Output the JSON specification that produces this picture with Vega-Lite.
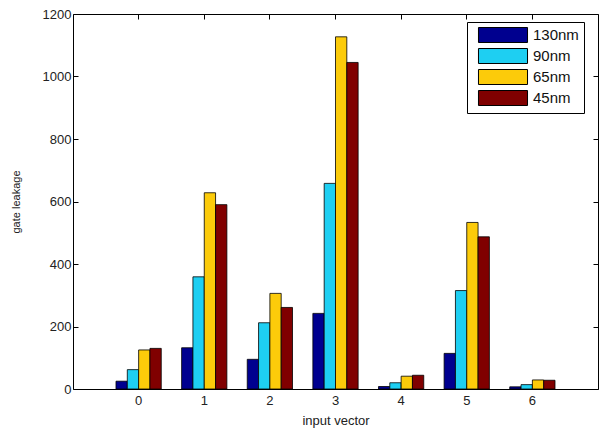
{
  "$schema": "https://vega.github.io/schema/vega-lite/v6.json",
  "width": 525,
  "height": 375,
  "autosize": {"type": "none"},
  "padding": {"left": 73, "top": 14, "right": 10, "bottom": 45},
  "background": "white",
  "config": {
    "view": {"stroke": "black", "strokeWidth": 1},
    "font": "Liberation Sans",
    "axis": {
      "grid": false,
      "domain": false,
      "tickColor": "black",
      "tickSize": 5,
      "offset": -5,
      "labelFont": "Liberation Sans",
      "labelFontSize": 13,
      "labelColor": "#222222",
      "titleFont": "Liberation Sans",
      "titleFontWeight": "normal",
      "titleColor": "#222222"
    }
  },
  "data": {
    "values": [
      {"vector": "0", "node": "130nm", "leakage": 25},
      {"vector": "0", "node": "90nm", "leakage": 62},
      {"vector": "0", "node": "65nm", "leakage": 125},
      {"vector": "0", "node": "45nm", "leakage": 130},
      {"vector": "1", "node": "130nm", "leakage": 132},
      {"vector": "1", "node": "90nm", "leakage": 359},
      {"vector": "1", "node": "65nm", "leakage": 628},
      {"vector": "1", "node": "45nm", "leakage": 590},
      {"vector": "2", "node": "130nm", "leakage": 95},
      {"vector": "2", "node": "90nm", "leakage": 212},
      {"vector": "2", "node": "65nm", "leakage": 306},
      {"vector": "2", "node": "45nm", "leakage": 261},
      {"vector": "3", "node": "130nm", "leakage": 242},
      {"vector": "3", "node": "90nm", "leakage": 658},
      {"vector": "3", "node": "65nm", "leakage": 1127},
      {"vector": "3", "node": "45nm", "leakage": 1045},
      {"vector": "4", "node": "130nm", "leakage": 8},
      {"vector": "4", "node": "90nm", "leakage": 20},
      {"vector": "4", "node": "65nm", "leakage": 41},
      {"vector": "4", "node": "45nm", "leakage": 44},
      {"vector": "5", "node": "130nm", "leakage": 114},
      {"vector": "5", "node": "90nm", "leakage": 315},
      {"vector": "5", "node": "65nm", "leakage": 533},
      {"vector": "5", "node": "45nm", "leakage": 487},
      {"vector": "6", "node": "130nm", "leakage": 7},
      {"vector": "6", "node": "90nm", "leakage": 14},
      {"vector": "6", "node": "65nm", "leakage": 29},
      {"vector": "6", "node": "45nm", "leakage": 28}
    ]
  },
  "resolve": {"axis": {"x": "independent", "y": "independent"}},
  "layer": [
    {
      "mark": {"type": "bar", "stroke": "black", "strokeWidth": 0.8},
      "encoding": {
        "x": {
          "field": "vector",
          "type": "nominal",
          "scale": {"paddingInner": 0, "paddingOuter": 0.5},
          "axis": {"orient": "bottom", "labelAngle": 0, "labelPadding": 5, "title": "input vector", "titleFontSize": 13, "titlePadding": 7}
        },
        "xOffset": {
          "field": "node",
          "type": "nominal",
          "sort": ["130nm", "90nm", "65nm", "45nm"],
          "scale": {"paddingInner": 0, "paddingOuter": 0.9}
        },
        "y": {
          "field": "leakage",
          "type": "quantitative",
          "scale": {"domain": [0, 1200], "nice": false},
          "axis": {"orient": "left", "values": [0, 200, 400, 600, 800, 1000, 1200], "format": "d", "labelPadding": 2, "title": "gate leakage", "titleFontSize": 11, "titlePadding": 21}
        },
        "color": {
          "field": "node",
          "type": "nominal",
          "sort": ["130nm", "90nm", "65nm", "45nm"],
          "scale": {"domain": ["130nm", "90nm", "65nm", "45nm"], "range": ["#00008F", "#1ECFF2", "#FCCB0A", "#800000"]},
          "legend": {
            "orient": "none",
            "legendX": 394,
            "legendY": 8,
            "title": null,
            "strokeColor": "black",
            "fillColor": "white",
            "padding": 5,
            "symbolType": "M-3.27,-1H3.27V1H-3.27Z",
            "symbolSize": 225,
            "symbolOffset": 23,
            "symbolStrokeColor": "black",
            "symbolStrokeWidth": 1,
            "symbolOpacity": 1,
            "labelFontSize": 15,
            "labelFont": "Liberation Sans",
            "labelColor": "#111111",
            "labelOffset": 22,
            "rowPadding": 1
          }
        }
      }
    },
    {
      "mark": {"type": "bar", "opacity": 0},
      "encoding": {
        "x": {
          "field": "vector",
          "type": "nominal",
          "axis": {"orient": "top", "labels": false, "title": null}
        },
        "y": {
          "field": "leakage",
          "type": "quantitative",
          "axis": {"orient": "right", "labels": false, "title": null, "values": [0, 200, 400, 600, 800, 1000, 1200]}
        }
      }
    }
  ]
}
